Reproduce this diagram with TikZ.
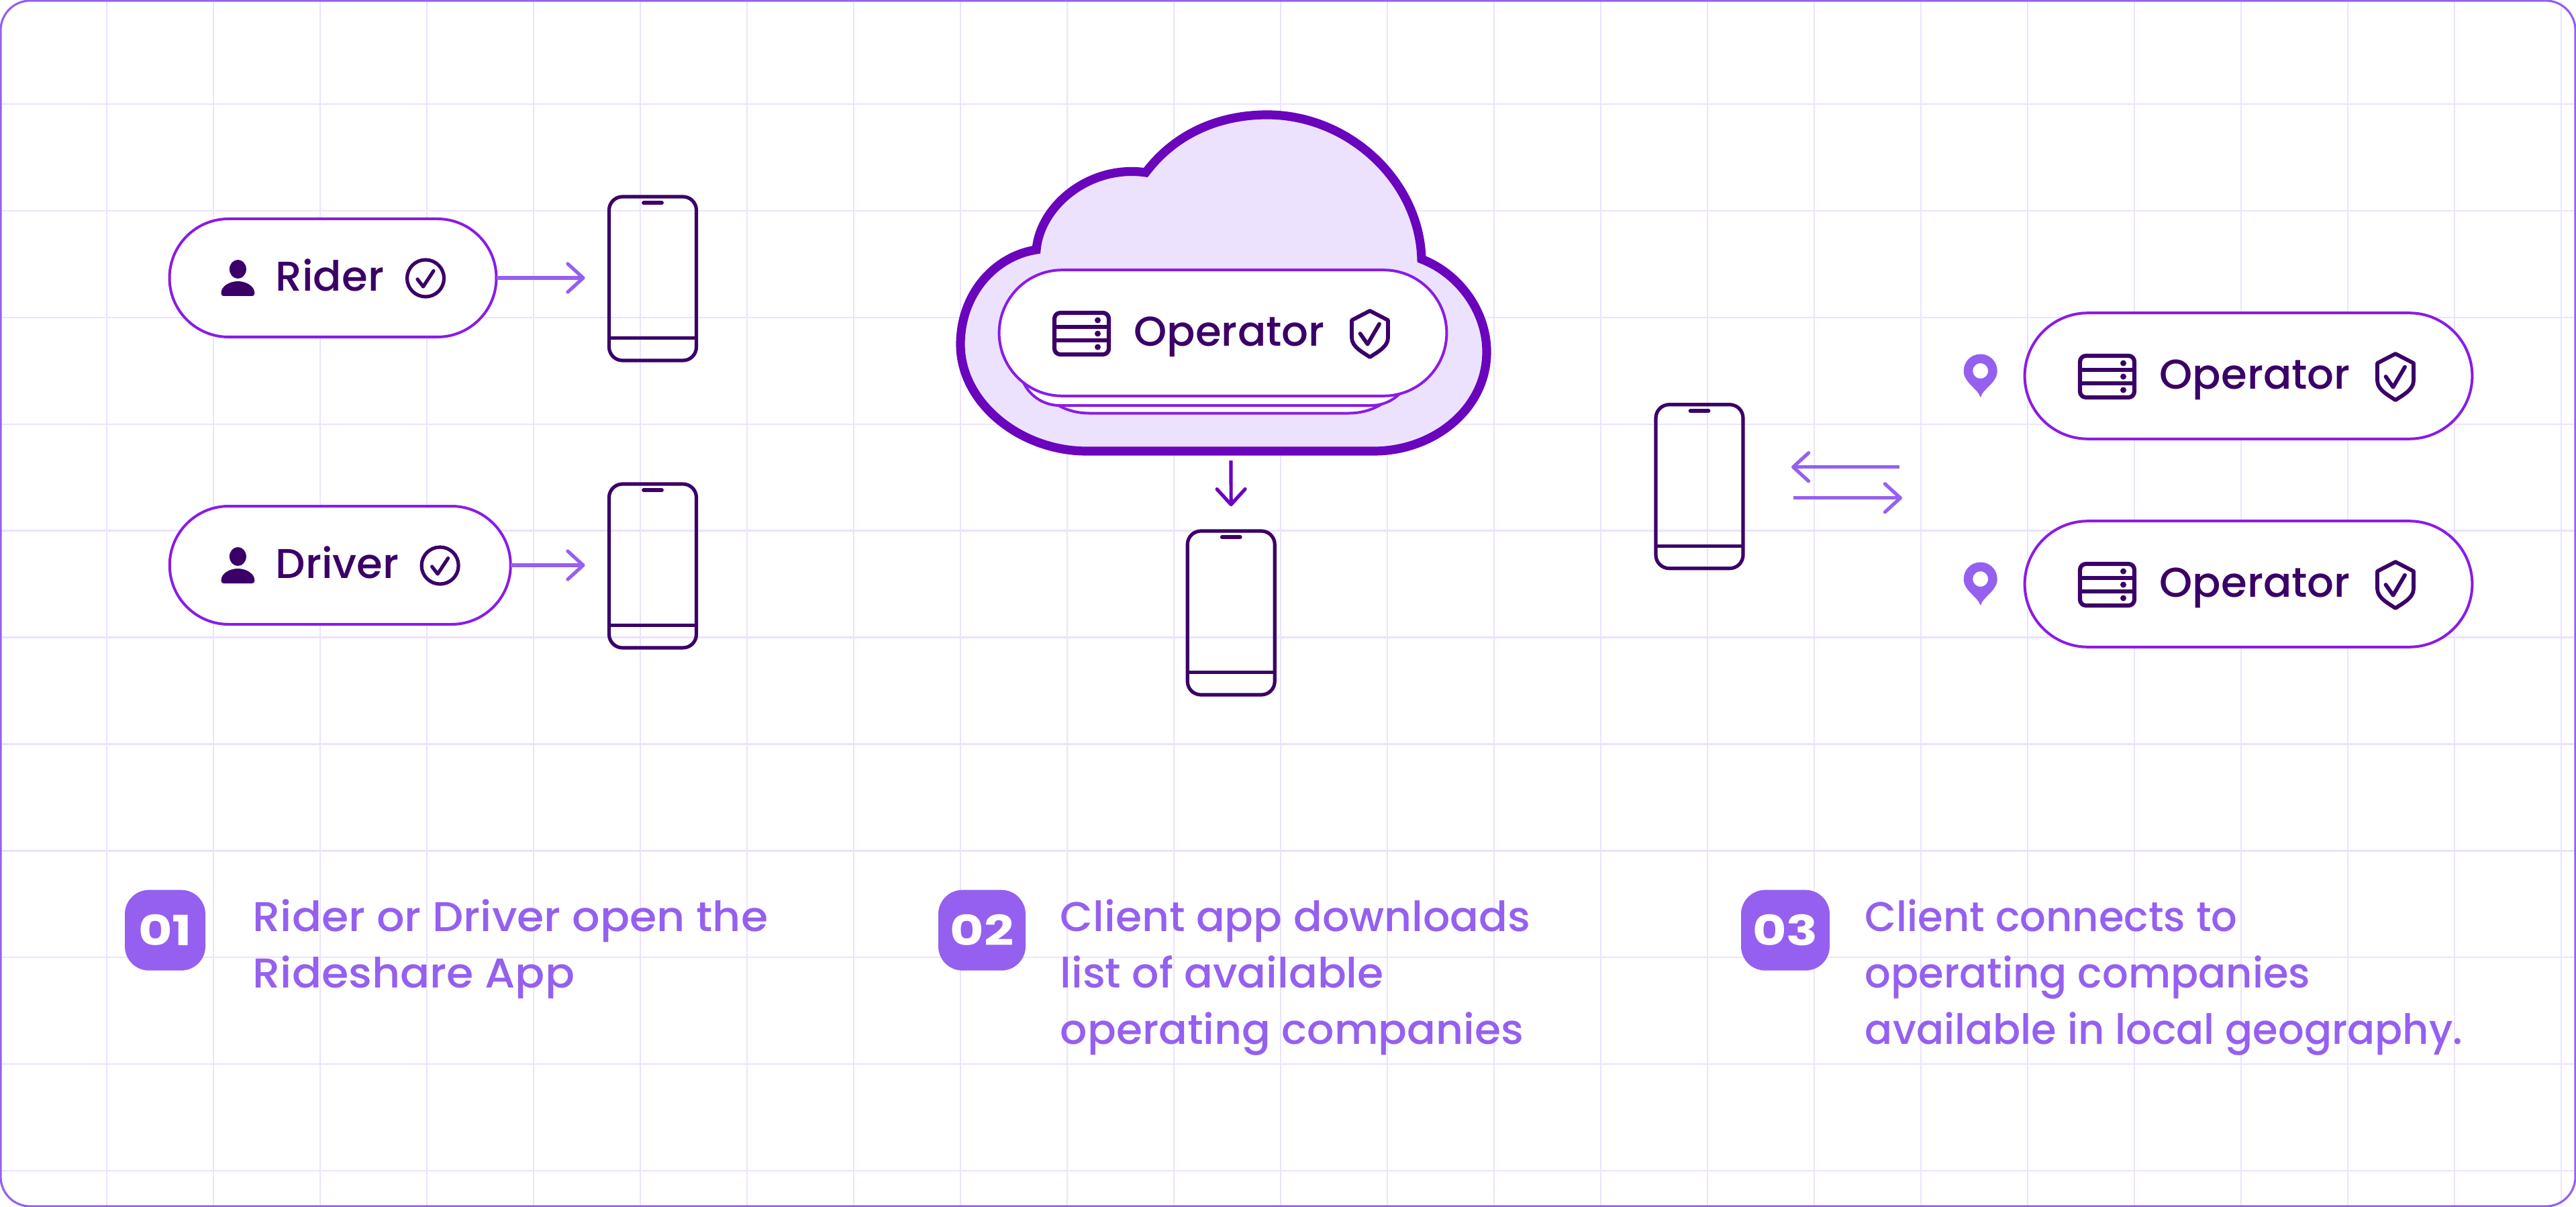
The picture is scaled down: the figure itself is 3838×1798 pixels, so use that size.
\documentclass[tikz,border=0pt]{standalone}
\usepackage{fontspec}
\usetikzlibrary{arrows.meta,calc}
\newfontfamily\pillfont{Poppins Medium}[FakeStretch=1.01]
\newfontfamily\bodyfontA{Poppins Medium}[FakeStretch=1.05]
\newfontfamily\bodyfontB{Poppins Medium}[FakeStretch=1.02]
\newfontfamily\bodyfontC{Poppins Medium}[FakeStretch=0.98]
\newfontfamily\numfont{Poppins}[FakeStretch=1.25,BoldFont=* Bold]
\definecolor{lav}{HTML}{9560F0}
\definecolor{deep}{HTML}{6A05BD}
\definecolor{vio}{HTML}{8A1BE8}
\definecolor{ink}{HTML}{3B0068}
\definecolor{pale}{HTML}{ECE2FE}
\tikzset{
  gridline/.style={draw=pale,line width=0.6pt},
  pill/.style={draw=vio,line width=1pt,fill=white,rectangle,rounded corners=#1,inner sep=0pt,outer sep=0pt},
  phonebox/.style={draw=ink,line width=1.3pt,rectangle,rounded corners=5pt,minimum width=32.5pt,minimum height=61pt,inner sep=0pt,outer sep=0pt},
  phoneline/.style={draw=ink,line width=1.3pt},
  notch/.style={draw=ink,line width=1.4pt,line cap=round},
  arr/.style={draw=lav,line width=1.3pt,-{Straight Barb[length=5.75pt,width=10.5pt,round]}},
  darr/.style={draw=deep,line width=1.3pt,-{Straight Barb[length=5.75pt,width=10.5pt,round]}},
  pilltext/.style={text=ink,anchor=base west,inner sep=0pt,font=\pillfont\fontsize{15.5}{21}\selectfont},
  bodytext/.style={text=lav,anchor=base west,inner sep=0pt,align=left},
  badge/.style={fill=lav,rectangle,rounded corners=9pt,minimum height=30pt,inner sep=0pt,outer sep=0pt,text=white,font=\numfont\bfseries\fontsize{15.5}{21}\selectfont},
  person/.pic={
    \fill[ink] (0,-13) ellipse [x radius=12.5,y radius=14];
    \fill[ink] (-25,23) .. controls (-25,12) and (-12,5) .. (0,5) .. controls (12,5) and (25,12) .. (25,23) .. controls (25,26) and (23,27) .. (21,27) -- (-21,27) .. controls (-23,27) and (-25,26) .. (-25,23) -- cycle;
  },
  checkcircle/.pic={
    \draw[ink,line width=1.3pt] (0,0) circle [radius=27.5];
    \draw[ink,line width=1.3pt,line cap=round,line join=round] (-12,1.5) -- (-3.5,12.5) -- (12,-11);
  },
  servericon/.pic={
    \draw[ink,line width=1.55pt,rounded corners=2.2pt] (-40.5,-31) rectangle (40.5,31);
    \draw[ink,line width=1.55pt] (-40.5,-10.3) -- (40.5,-10.3) (-40.5,10) -- (40.5,10);
    \fill[ink] (24,-20) circle [radius=4.5] (24,0) circle [radius=4.5] (24,20) circle [radius=4.5];
  },
  shieldicon/.pic={
    \draw[ink,line width=1.45pt,line join=round] (0,-34) -- (27,-20) -- (27,6) .. controls (27,20) and (10,28) .. (0,35) .. controls (-10,28) and (-27,20) .. (-27,6) -- (-27,-20) -- cycle;
    \draw[ink,line width=1.45pt,line cap=round,line join=round] (-14.5,0) -- (-3.5,15.7) -- (14,-14.3);
  },
  pinicon/.pic={
    \fill[lav,even odd rule] (0,39.5) .. controls (-4,26) and (-25,18) .. (-25,0) .. controls (-25,-14) and (-14,-25) .. (0,-25) .. controls (14,-25) and (25,-14) .. (25,0) .. controls (25,18) and (4,26) .. (0,39.5) -- cycle (0,0) circle [radius=11.5];
  },
}
\newcommand{\phone}[3]{%
  \node[phonebox] (#1) at (#2,#3) {};
  \draw[phoneline] ([yshift=8.4pt]#1.south west) -- ([yshift=8.4pt]#1.south east);
  \draw[notch] ([xshift=-3.4pt,yshift=-2.3pt]#1.north) -- ([xshift=3.4pt,yshift=-2.3pt]#1.north);
}
\newcommand{\operatorpill}[3]{%
  \node[pill=23.5pt,minimum width=166.7pt,minimum height=46.9pt] (#1) at (#2,#3) {};
  \pic at ($(#2,#3)+(-210.5,1)$) {servericon};
  \node[pilltext] at ($(#2,#3)+(-133,19)$) {Operator};
  \pic at ($(#2,#3)+(219,1)$) {shieldicon};
}
\begin{document}
\begin{tikzpicture}[x=0.25pt,y=-0.25pt]
\useasboundingbox (0,0) rectangle (3838,1798);
\fill[white] (0,0) rectangle (3838,1798);
% grid
\foreach \k in {1,...,24} \draw[gridline] ({159*\k},2) -- ({159*\k},1796);
\foreach \k in {0,...,10} \draw[gridline] (2,{155+158.9*\k}) -- (3836,{155+158.9*\k});
\draw[lav,line width=0.8pt,rounded corners=11pt] (1,1) rectangle (3837,1797);

% step 1
\node[pill=22pt,minimum width=121.75pt,minimum height=44pt] (rider) at (496,414) {};
\node[pill=22pt,minimum width=127pt,minimum height=44pt] (driver) at (506.75,842) {};
\pic at (354.4,414) {person};
\pic at (354.4,842) {person};
\node[pilltext] at (410,434) {Rider};
\node[pilltext] at (410,861.5) {Driver};
\pic at (634,414.5) {checkcircle};
\pic at (655.6,842.5) {checkcircle};
\phone{phoneA}{972.5}{415}
\phone{phoneB}{972.5}{843}
\draw[arr,shorten >=9pt] (rider.east) -- (phoneA.west |- rider.east);
\draw[arr,shorten >=9pt] (driver.east) -- (phoneB.west |- driver.east);

% step 2 cloud
\draw[draw=deep,fill=pale,line width=3.3pt,miter limit=4]
  (1544,372) .. controls (1550,305) and (1625,245) .. (1707,257)
  .. controls (1750,200) and (1815,171) .. (1888,171)
  .. controls (2010,171) and (2115,270) .. (2118,386)
  .. controls (2175,408) and (2215,465) .. (2215,524)
  .. controls (2215,610) and (2135,672) .. (2047,672)
  -- (1619,672)
  .. controls (1520,672) and (1431,600) .. (1431,513)
  .. controls (1431,440) and (1480,382) .. (1544,372) -- cycle;
\node[pill=23.5pt,minimum width=144pt,minimum height=47pt] (stackC) at (1816,521.5) {};
\node[pill=15pt,minimum width=146pt,minimum height=30pt] (stackB) at (1811,544) {};
\operatorpill{opA}{1822}{496}
\coordinate (cloudbase) at (1834,686);
\phone{phoneC}{1834.25}{913}
\draw[darr,shorten >=9.2pt] (cloudbase) -- (phoneC.north);

% step 3
\phone{phoneD}{2532}{724.7}
\coordinate (backS) at (2830,695.7);
\coordinate (backE) at (2669,695.7);
\coordinate (foreS) at (2672,741.8);
\coordinate (foreE) at (2834,741.8);
\draw[arr] (backS) -- (backE);
\draw[arr] (foreS) -- (foreE);
\pic at (2950.7,552.5) {pinicon};
\pic at (2950.7,862.5) {pinicon};
\operatorpill{opB}{3350}{560}
\operatorpill{opC}{3350}{870}

% captions
\node[badge,minimum width=30pt] (badgeA) at (246,1385.7) {01};
\node[badge,minimum width=32.5pt] (badgeB) at (1463,1385.7) {02};
\node[badge,minimum width=33pt] (badgeC) at (2660,1385.7) {03};
\node[bodytext,font=\bodyfontA\fontsize{15.5}{21}\selectfont] at (376,1471.7) {Rider or Driver open the\\Rideshare App};
\node[bodytext,font=\bodyfontB\fontsize{15.5}{21}\selectfont] at (1579,1555.7) {Client app downloads\\list of available\\operating companies};
\node[bodytext,font=\bodyfontC\fontsize{15.5}{21}\selectfont] at (2778,1555.7) {Client connects to\\operating companies\\available in local geography.};
\end{tikzpicture}
\end{document}
